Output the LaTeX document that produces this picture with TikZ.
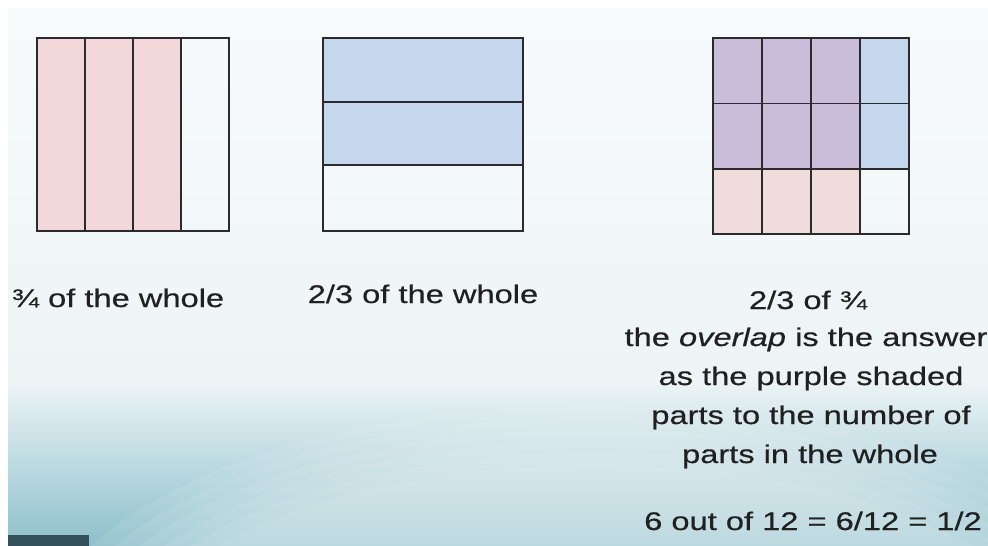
\documentclass[tikz,border=0pt]{standalone}
\usepackage{fontspec}
\setmainfont{Liberation Sans}[FakeStretch=1.28,FakeBold=0.5]
\definecolor{pinkc}{HTML}{F2D8DB}
\definecolor{bluec}{HTML}{C5D7EC}
\definecolor{purpc}{HTML}{C9BDDA}
\definecolor{pink2}{HTML}{F1DCDC}
\definecolor{gridc}{HTML}{2B2B2E}
\definecolor{textc}{HTML}{202020}
\definecolor{bgtop}{HTML}{F8FBFC}
\definecolor{bgmid}{HTML}{EDF4F6}
\definecolor{bgbot}{HTML}{8DC0CC}
\definecolor{patchc}{HTML}{33505A}
\begin{document}
\begin{tikzpicture}[x=1pt,y=-1pt,
  grid/.style={draw=gridc, line width=1.3pt},
  lbl/.style={font=\fontsize{25.5}{30}\selectfont, text=textc, anchor=base, inner sep=0pt}]
\useasboundingbox (0,0) rectangle (988,546);
\fill[white] (0,0) rectangle (988,546);
% background
\shade[top color=bgtop, bottom color=bgmid] (8,8) rectangle (988,381);
\shade[top color=bgmid, bottom color=bgbot] (8,380) rectangle (988,546);
\begin{scope}
  \clip (8,8) rectangle (988,546);
  \foreach \r/\s in {560/250,540/238,520/226,500/214,480/202,460/190}
    \fill[white, opacity=0.09] (595,655) ellipse [x radius=\r, y radius=\s];
\end{scope}
\fill[patchc] (8,535) rectangle (89,546);
% box 1: 3/4
\fill[pinkc] (37,38) rectangle (181,231);
\draw[grid] (37,38) rectangle (229,231);
\foreach \x in {85,133,181} \draw[grid] (\x,38) -- (\x,231);
% box 2: 2/3
\fill[bluec] (323,38) rectangle (523,165);
\draw[grid] (323,38) rectangle (523,231);
\foreach \y in {102,165} \draw[grid] (323,\y) -- (523,\y);
% box 3: overlap
\fill[purpc] (713,38) rectangle (860,169);
\fill[bluec] (860,38) rectangle (909,169);
\fill[pink2] (713,169) rectangle (860,234);
\draw[grid] (713,38) rectangle (909,234);
\foreach \x in {762,811,860} \draw[grid] (\x,38) -- (\x,234);
\foreach \y in {103.5,169} \draw[grid] (713,\y) -- (909,\y);
% labels
\node[lbl] (t1) at (118,307) {¾ of the whole};
\node[lbl] (t2) at (423,303) {2/3 of the whole};
\node[lbl] (r1) at (808,309) {2/3 of ¾};
\node[lbl] (r2) at (806,346) {the \textit{overlap} is the answer};
\node[lbl] (r3) at (811,385) {as the purple shaded};
\node[lbl] (r4) at (811,424) {parts to the number of};
\node[lbl] (r5) at (810,463) {parts in the whole};
\node[lbl] (r6) at (813,530) {6 out of 12 = 6/12 = 1/2};
\end{tikzpicture}
\end{document}
